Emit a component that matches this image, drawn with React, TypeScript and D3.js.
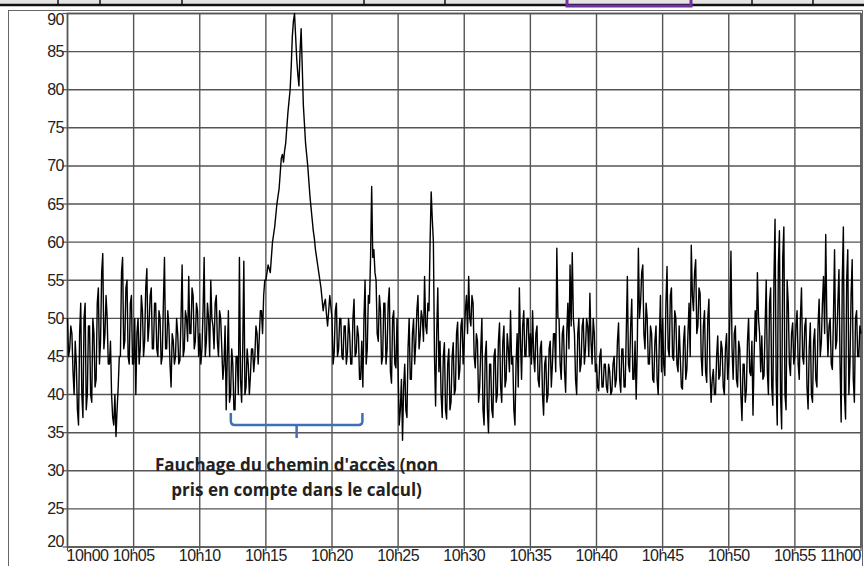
import React from "react";
import * as d3 from "d3";

// Noise level (dB) read every 10 s, one array per 5-minute block ...
const seg00 = [50,46,48,40,44,36,52,37,52,40,49,39,48,42,54,47,58.5,48,50,44,40,36,34.5,41,45,58,47,55,44,53];
const seg05 = [44,40,50,46,51,47,56.5,49,54,46,52,45,50,45,58,46,49,41,47,45,48,44.5,57,46,50,55.5,48,53,47,51];
const seg10 = [48,46,58,47,50,55,49,52,47,51,46,44,38,51,40,44,38,45,58,39,57.5,41,44,42.5,46,45,48,47.5,51,53];
const seg15 = [55,57,56,60,62,65,67,71,70.5,73,77,80,87,90,84,80.5,88,78,73,70,66,63,60.5,58,56,54,51,52.5,49,53];
const seg20 = [50,45.5,52,46,50,44.6,49,45.5,48,44,52.5,45.5,47.7,42,41,55,46,52,67.3,59,55,47,51,45,52,46,54,41.5,51,43.5];
const seg25 = [43,38,34,44,37,50,42,49.9,46.8,53,47.7,50,55.5,48,51,66.6,60,38.5,54,47,37,46.8,36.8,46,39,46.8,40.7,49.5,43.3,50];
const seg30 = [47,53,55.5,49,52,43.5,47,41,50,36,47,35,44,37,46,40,49.4,39,49,42,46,51,45,36,48,54,42,51,45,50];
const seg35 = [48,51,43,49,41,47,37.3,45,40,47,44,48,59.2,50,42,49,40.3,52,57,58.6,48,40,50,44,50,46,49,53.3,44,48];
const seg40 = [44,40.5,46,41,44,40.3,43,40.5,45,42,49.4,40.3,46,41,55.5,43,52.5,42,39.4,59.2,52,57,46,50,44,48,41.6,49,40,53];
const seg45 = [50,42.5,56.8,45,54,44.5,50,43,45,40.7,49,43.3,52,59.6,51,57.7,49,53.3,42.5,51,41.6,52.5,39,43.3,40,47.7,42.5,46,40,48];
const seg50 = [44,58.8,42,49,41,46,36.6,44,40.7,50,42.5,37.3,51,56,48,47.7,42.5,55,40,54,38.6,63,36,61.5,35.5,62,38,52,42.5,49.4];
const seg55 = [45,51,42,54,44,50,38.1,49.4,39,48.6,41,52.5,46.8,55.5,61,45,50,43.3,59,47,56.4,36.4,62,36.8,59,44,57.7,39,51,45];
// ... and the readings 5 s later (the other edge of the dense band)
const seg00b = [45,49,43,47,38,48,40,50,38,49,40,50,41,52,44,56,46,53,44,47,37,40,38,45,56,46,54,45,52,44];
const seg05b = [50,48,44,53,45,54,47,53,46,52,46,51,44,52,46,51,44,48,44,50,44,50,45,51,47,48,54,46,52,45];
const seg10b = [44,51,45,52,45,50,46,53,45,50,42,49,45,39,46,38,45,40,42,46,40,46,40,46,43,49,44,51,48,55];
const seg15b = [56,56.5,58,61,63.5,66,69,71.5,72,75,78.5,83,89,87,82,85,83,75.5,71.5,68,64.5,61.5,59,57,55,52.5,52,50.5,51,51.5];
const seg20b = [44,51,45,50,45,49,44,50,44,50,45,49,42,47,50,44,53,58,58,56,48,53,44,52,44,52,43,50,44,50];
const seg25b = [36,42,41,38,46,42,48,44,51,46,51,47,49,52,60,63,45,48,43,40,45,38,44,38,45,40,48,42,49,44];
const seg30b = [51,48,50,53,45,48,39,46,38,45,38,44,38,45,39,47,41,47,41,48,43,44,38,44,41,47,49,45,50,45];
const seg35b = [44,45,48,42,46,40,44,39,46,41,48,43,50,44,48,43,48,46,49,50,42,48,43,49,44,50,45,47,50,43];
const seg40b = [41,45,41,44,41,44,40,44,41,47,42,46,41,48,44,49,42,47,46,50,56,48,52,44,49,42,47,42,47,43];
const seg45b = [44,52,46,53,45,51,44,49,41,47,42,48,45,53,56,48,54,45,49,43,50,43,42,40,45,42,47,41,46,42];
const seg50b = [50,46,48,42,47,40,44,39,47,43,47,45,47,50,43,42,49,43,52,41,55,42,57,40,58,40,55,44,48,44];
const seg55b = [49,44,50,45,49,41,46,40,47,42,49,45,52,48,50,49,44,50,46,52,44,55,40,55,40,53,42,50,45,49];
const lastValue = 48;

const yTicks = [20,25,30,35,40,45,50,55,60,65,70,75,80,85,90];
const xTickLabels = ["10h00","10h05","10h10","10h15","10h20","10h25","10h30","10h35","10h40","10h45","10h50","10h55","11h00"];
const noteLines = ["Fauchage du chemin d'accès (non", "pris en compte dans le calcul)"];

const blocks = [seg00,seg05,seg10,seg15,seg20,seg25,seg30,seg35,seg40,seg45,seg50,seg55];
const blocksB = [seg00b,seg05b,seg10b,seg15b,seg20b,seg25b,seg30b,seg35b,seg40b,seg45b,seg50b,seg55b];
const series: { t: number; v: number }[] = [];
blocks.forEach((blk, b) => {
  blk.forEach((v, i) => {
    const t0 = b * 5 + i / 6;
    series.push({ t: t0, v });
    series.push({ t: t0 + 1 / 12, v: blocksB[b][i] });
  });
});
series.push({ t: 60, v: lastValue });

export default function App() {
  const W = 864, H = 566;
  const left = 67.5, right = 861, top = 13.5, bottom = 547;
  const x = d3.scaleLinear().domain([0, 60]).range([left, right]);
  const y = d3.scaleLinear().domain([20, 90]).range([bottom, top]);
  const line = d3.line<{ t: number; v: number }>().x(d => x(d.t)).y(d => y(d.v));
  const grid = "#555";
  const blue = "#3f6fb6";
  const bx0 = x(12.35), bx1 = x(22.3), bmid = (bx0 + bx1) / 2;
  const font = "Liberation Sans, Arial, sans-serif";
  return (
    <svg width={W} height={H} style={{ position: "absolute", left: 0, top: 0, background: "#fff" }}>
      {/* top spreadsheet strip */}
      <rect x={0} y={0} width={W} height={4} fill="#e4e4e4" />
      <line x1={0} x2={W} y1={5} y2={5} stroke="#111" strokeWidth={2.5} />
      {[58, 100, 182, 364, 445, 752, 813].map(px => (
        <line key={px} x1={px} x2={px} y1={0} y2={5} stroke="#111" strokeWidth={1.5} />
      ))}
      <rect x={567} y={-3} width={124} height={9} fill="none" stroke="#7030a0" strokeWidth={3} />
      {/* chart frame */}
      <line x1={8.5} x2={8.5} y1={10} y2={H} stroke="#666" strokeWidth={1} />
      <line x1={8.5} x2={863} y1={10.5} y2={10.5} stroke="#666" strokeWidth={1} />
      <line x1={862.5} x2={862.5} y1={10} y2={H} stroke="#666" strokeWidth={1} />
      {/* horizontal grid */}
      {yTicks.map(t => (
        <g key={t}>
          <line x1={left} x2={right} y1={y(t)} y2={y(t)} stroke={grid} strokeWidth={1.4} />
          <line x1={left - 5} x2={left} y1={y(t)} y2={y(t)} stroke={grid} strokeWidth={1.2} />
          <text x={left - 4} y={Math.min(Math.max(y(t), 19), 541)} textAnchor="end" dominantBaseline="central"
            fontFamily={font} fontSize={16} fill="#222" letterSpacing={-0.8}>{t}</text>
        </g>
      ))}
      {/* vertical grid */}
      {xTickLabels.map((lab, i) => {
        const px = x(i * 5);
        const anchor = i === 0 ? "start" : i === xTickLabels.length - 1 ? "end" : "middle";
        return (
          <g key={lab}>
            <line x1={px} x2={px} y1={top} y2={bottom} stroke={grid} strokeWidth={1.4} />
            <line x1={px} x2={px} y1={bottom} y2={bottom + 4} stroke={grid} strokeWidth={1.2} />
            <text x={i === 0 ? px - 1 : px} y={561} textAnchor={anchor}
              fontFamily={font} fontSize={16} fill="#222" letterSpacing={-0.5}>{lab}</text>
          </g>
        );
      })}
      <rect x={left} y={top} width={right - left} height={bottom - top} fill="none" stroke={grid} strokeWidth={1.5} />
      {/* data */}
      <path d={line(series) || ""} fill="none" stroke="#000" strokeWidth={1.4} strokeLinejoin="round" />
      {/* annotation bracket */}
      <path d={`M${bx0},${413} L${bx0},${421} Q${bx0},${425} ${bx0 + 4},${425} L${bx1 - 4},${425} Q${bx1},${425} ${bx1},${421} L${bx1},${413}`}
        fill="none" stroke={blue} strokeWidth={2.5} />
      <line x1={bmid} x2={bmid} y1={425} y2={438} stroke={blue} strokeWidth={2.5} />
      {noteLines.map((s, i) => (
        <text key={i} x={bmid} y={471 + i * 25} textAnchor="middle" fontFamily="Open Sans, sans-serif"
          fontWeight={700} fontSize={17} fill="#222">{s}</text>
      ))}
    </svg>
  );
}
